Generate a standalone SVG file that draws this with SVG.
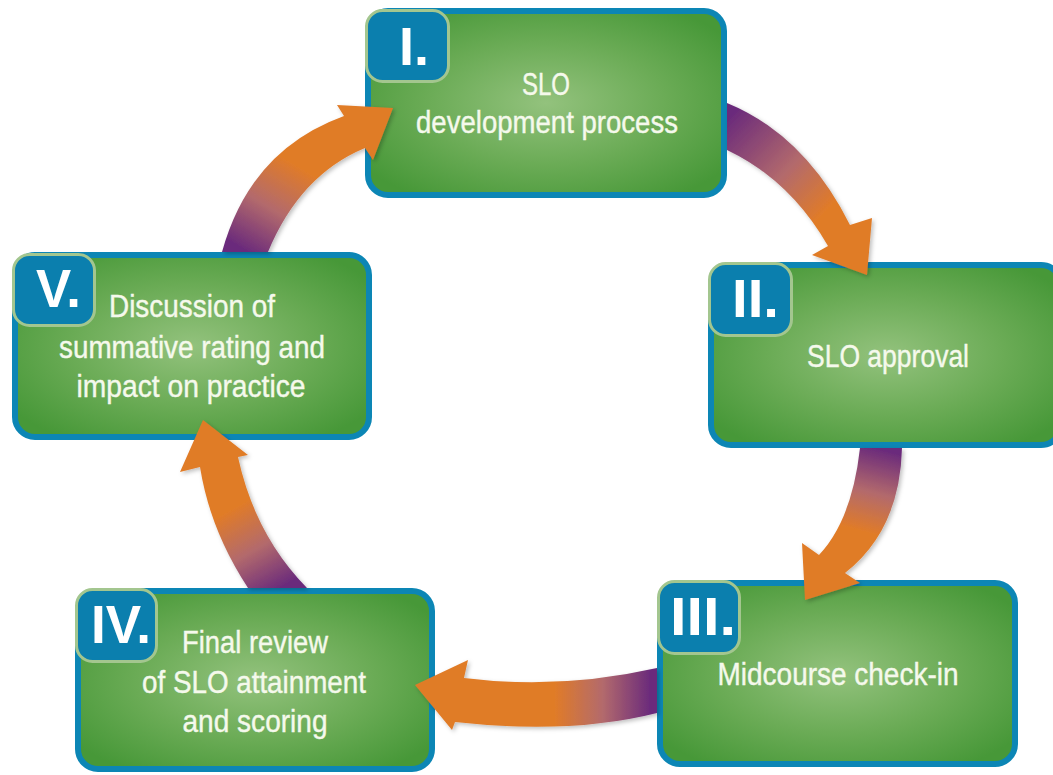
<svg xmlns="http://www.w3.org/2000/svg" width="1053" height="775" viewBox="0 0 1053 775">
<defs>
<radialGradient id="green" cx="0.5" cy="0.5" r="0.62">
<stop offset="0" stop-color="#93c27d"/>
<stop offset="0.55" stop-color="#6aab55"/>
<stop offset="1" stop-color="#479838"/>
</radialGradient>
<linearGradient id="g1" gradientUnits="userSpaceOnUse" x1="727" y1="120" x2="840" y2="230">
<stop offset="0" stop-color="#6b2b7b"/><stop offset="0.5" stop-color="#b36a6c"/><stop offset="0.85" stop-color="#e07b28"/>
</linearGradient>
<linearGradient id="g2" gradientUnits="userSpaceOnUse" x1="882" y1="450" x2="860" y2="535">
<stop offset="0" stop-color="#6b2b7b"/><stop offset="0.5" stop-color="#b36a6c"/><stop offset="0.95" stop-color="#e07b28"/>
</linearGradient>
<linearGradient id="g3" gradientUnits="userSpaceOnUse" x1="650" y1="690" x2="555" y2="690">
<stop offset="0" stop-color="#6b2b7b"/><stop offset="0.5" stop-color="#b36a6c"/><stop offset="1" stop-color="#e07b28"/>
</linearGradient>
<linearGradient id="g4" gradientUnits="userSpaceOnUse" x1="285" y1="585" x2="240" y2="505">
<stop offset="0" stop-color="#6b2b7b"/><stop offset="0.5" stop-color="#b36a6c"/><stop offset="1" stop-color="#e07b28"/>
</linearGradient>
<linearGradient id="g5" gradientUnits="userSpaceOnUse" x1="245" y1="250" x2="295" y2="165">
<stop offset="0" stop-color="#6b2b7b"/><stop offset="0.5" stop-color="#b36a6c"/><stop offset="1" stop-color="#e07b28"/>
</linearGradient>
<filter id="sh" x="-20%" y="-20%" width="140%" height="140%">
<feDropShadow dx="2" dy="2" stdDeviation="2" flood-color="#000" flood-opacity="0.25"/>
</filter>
<style>
.box{fill:url(#green);stroke:#0c86b5;stroke-width:6}
.badge{fill:#0b7fae;stroke:#a3c68f;stroke-width:3}
.num{font-family:"Liberation Sans",Arial,sans-serif;font-weight:bold;font-size:53px;fill:#ffffff}
.lbl{font-family:"Liberation Sans",Arial,sans-serif;font-size:31px;fill:#f5f9ec;stroke:#f5f9ec;stroke-width:0.4;text-anchor:middle}
</style>
</defs>
<rect width="1053" height="775" fill="#ffffff"/>

<g id="node1">
<rect class="box" x="368" y="11" width="356" height="184" rx="20"/>
<rect class="badge" x="366.5" y="10.5" width="82" height="71" rx="16"/>
<text class="num" x="399" y="65" textLength="30" lengthAdjust="spacingAndGlyphs">I.</text>
<text class="lbl" x="546" y="95" textLength="48" lengthAdjust="spacingAndGlyphs">SLO</text>
<text class="lbl" x="547" y="133" textLength="262" lengthAdjust="spacingAndGlyphs">development process</text>
</g>

<g id="node2">
<rect class="box" x="711" y="265" width="350" height="180" rx="20"/>
<rect class="badge" x="709.5" y="263.5" width="82" height="72" rx="16"/>
<text class="num" x="732" y="317" textLength="47" lengthAdjust="spacingAndGlyphs">II.</text>
<text class="lbl" x="888" y="367" textLength="162" lengthAdjust="spacingAndGlyphs">SLO approval</text>
</g>

<g id="node3">
<rect class="box" x="660" y="583" width="355" height="181" rx="20"/>
<rect class="badge" x="658.5" y="581.5" width="81" height="72" rx="16"/>
<text class="num" x="670" y="635" textLength="66" lengthAdjust="spacingAndGlyphs">III.</text>
<text class="lbl" x="838" y="685" textLength="241" lengthAdjust="spacingAndGlyphs">Midcourse check-in</text>
</g>

<g id="node4">
<rect class="box" x="78" y="591" width="354" height="178" rx="20"/>
<rect class="badge" x="76.5" y="589.5" width="80" height="72" rx="16"/>
<text class="num" x="91" y="643" textLength="60" lengthAdjust="spacingAndGlyphs">IV.</text>
<text class="lbl" x="255" y="653" textLength="146" lengthAdjust="spacingAndGlyphs">Final review</text>
<text class="lbl" x="254" y="693" textLength="224" lengthAdjust="spacingAndGlyphs">of SLO attainment</text>
<text class="lbl" x="255" y="732" textLength="145" lengthAdjust="spacingAndGlyphs">and scoring</text>
</g>

<g id="node5">
<rect class="box" x="15" y="255" width="354" height="182" rx="20"/>
<rect class="badge" x="13.5" y="254.5" width="81" height="71" rx="16"/>
<text class="num" x="36" y="307" textLength="45" lengthAdjust="spacingAndGlyphs">V.</text>
<text class="lbl" x="192" y="317" textLength="166" lengthAdjust="spacingAndGlyphs">Discussion of</text>
<text class="lbl" x="192" y="358" textLength="266" lengthAdjust="spacingAndGlyphs">summative rating and</text>
<text class="lbl" x="191" y="397" textLength="229" lengthAdjust="spacingAndGlyphs">impact on practice</text>
</g>

<g id="connectors" filter="url(#sh)">
<path fill="url(#g1)" d="M727,103 Q805,135 850,225 L872,218 L867,275 L812,255 L828,246 Q790,180 727,150 Z"/>
<path fill="url(#g2)" d="M860,448 Q852,520 819,555 L802,543 L805,600 L860,583 L845,573 Q900,530 902,448 Z"/>
<path fill="url(#g3)" d="M657,668 Q560,690 464,678 L468,660 L415,685 L452,730 L455,722 Q570,735 657,713 Z"/>
<path fill="url(#g4)" d="M248,588 Q210,530 200,467 L180,472 L203,420 L248,455 L238,457 Q255,535 307,588 Z"/>
<path fill="url(#g5)" d="M222,252 Q250,150 344,116 L337,105 L393,108 L373,160 L365,148 Q300,175 268,252 Z"/>
</g>
</svg>
